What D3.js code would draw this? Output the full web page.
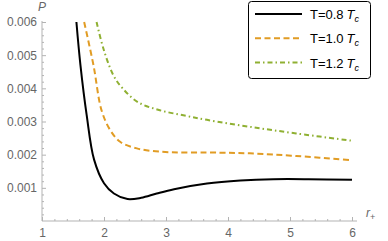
<!DOCTYPE html>
<html>
<head>
<meta charset="utf-8">
<script src="https://cdn.jsdelivr.net/npm/d3@7"></script>
<style>
  body { margin: 0; background: #fff; }
  text { font-family: "Liberation Sans", Arial, sans-serif; }
</style>
</head>
<body>
<svg id="chart" width="388" height="241"></svg>
<script>
// values (r+, P)
const black08 = [[1.555, 0.006], [1.62, 0.0047], [1.72, 0.0032], [1.84, 0.00185], [2.0, 0.00114],
  [2.16, 0.00083], [2.38, 0.00066], [2.6, 0.0007], [2.85, 0.00083], [3.13, 0.00096], [3.66, 0.00113],
  [4.2, 0.00122], [4.73, 0.00126], [5.3, 0.00126], [6.0, 0.00124]];
const orange10 = [[1.68, 0.006], [1.83, 0.0047], [1.96, 0.00334], [2.1, 0.00274], [2.26, 0.00239],
  [2.53, 0.00219], [2.9, 0.00209], [3.87, 0.00206], [4.35, 0.00204], [5.1, 0.00196], [6.0, 0.00183]];
const green12 = [[1.88, 0.006], [1.99, 0.0052], [2.15, 0.0044], [2.3, 0.004], [2.55, 0.00358],
  [2.9, 0.00334], [3.3, 0.00318], [3.66, 0.00305], [4.35, 0.00284], [5.1, 0.00264], [6.0, 0.00242]];

const xTicks = [1, 2, 3, 4, 5, 6];
const yTicks = [0.001, 0.002, 0.003, 0.004, 0.005, 0.006];
const series = [
  { name: '0.8', data: black08, color: '#000000', dash: null, width: 2 },
  { name: '1.0', data: orange10, color: '#e19c24', dash: '6,3.5', width: 2 },
  { name: '1.2', data: green12, color: '#8fb032', dash: '5,3,1.5,3', width: 2 }
];

const svg = d3.select('#chart');
const x = d3.scaleLinear().domain([1, 6]).range([42, 352]);
const y = d3.scaleLinear().domain([0, 0.006]).range([221, 22]);
const axisColor = '#b3b3b3';
const labelColor = '#666';

// minor ticks
const xMinor = d3.range(1, 6.01, 0.2).filter(v => Math.abs(v - Math.round(v)) > 1e-6);
const yMinor = d3.range(0.0002, 0.00601, 0.0002).filter(v => Math.abs(v * 1000 - Math.round(v * 1000)) > 1e-6);

const xAxisG = svg.append('g').attr('transform', `translate(0,${y(0)})`);
xAxisG.call(d3.axisBottom(x).tickValues(xTicks).tickSize(-4).tickPadding(7).tickFormat(d3.format('d')));
xAxisG.append('g').call(d3.axisBottom(x).tickValues(xMinor).tickSize(-2).tickFormat(''));

const yAxisG = svg.append('g').attr('transform', `translate(${x(1)},0)`);
yAxisG.call(d3.axisLeft(y).tickValues(yTicks).tickSize(-4).tickPadding(5).tickFormat(d3.format('.3f')));
yAxisG.append('g').call(d3.axisLeft(y).tickValues(yMinor).tickSize(-2).tickFormat(''));

svg.selectAll('.domain').remove();
svg.selectAll('.tick line').attr('stroke', axisColor);
svg.selectAll('.tick text').attr('fill', labelColor).style('font-size', '12px');

svg.append('line')
  .attr('x1', x(1)).attr('x2', x(6) + 5)
  .attr('y1', y(0)).attr('y2', y(0))
  .attr('stroke', axisColor);
svg.append('line')
  .attr('x1', x(1)).attr('x2', x(1))
  .attr('y1', y(0)).attr('y2', y(0.006) - 1)
  .attr('stroke', axisColor);

// axis labels
svg.append('text').attr('x', 38).attr('y', 11)
  .attr('fill', labelColor).style('font-size', '12px').style('font-style', 'italic').text('P');
const rl = svg.append('text').attr('x', 366).attr('y', 217)
  .attr('fill', labelColor).style('font-size', '12px');
rl.append('tspan').style('font-style', 'italic').text('r');
rl.append('tspan').attr('dy', 3).style('font-size', '9px').text('+');

// curves
const line = d3.line().x(d => x(d[0])).y(d => y(d[1])).curve(d3.curveCatmullRom.alpha(0.5));
series.forEach(s => {
  svg.append('path')
    .datum(s.data)
    .attr('d', line)
    .attr('fill', 'none')
    .attr('stroke', s.color)
    .attr('stroke-width', s.width)
    .attr('stroke-dasharray', s.dash);
});

// legend
const legend = svg.append('g');
legend.append('rect')
  .attr('x', 248.5).attr('y', 1.5).attr('width', 122).attr('height', 77)
  .attr('rx', 3).attr('fill', '#fff').attr('stroke', '#000').attr('stroke-width', 1);
series.forEach((s, i) => {
  const cy = 14 + i * 24.3;
  legend.append('line')
    .attr('x1', 255).attr('x2', 302).attr('y1', cy).attr('y2', cy)
    .attr('stroke', s.color).attr('stroke-width', s.width)
    .attr('stroke-dasharray', s.dash);
  const t = legend.append('text').attr('x', 310).attr('y', cy + 5)
    .attr('fill', '#000').style('font-size', '13px');
  t.append('tspan').text(`T=${s.name}`);
  t.append('tspan').attr('dx', 3).style('font-style', 'italic').text('T');
  t.append('tspan').attr('dy', 3).style('font-style', 'italic').style('font-size', '9px').text('c');
});
</script>
</body>
</html>
